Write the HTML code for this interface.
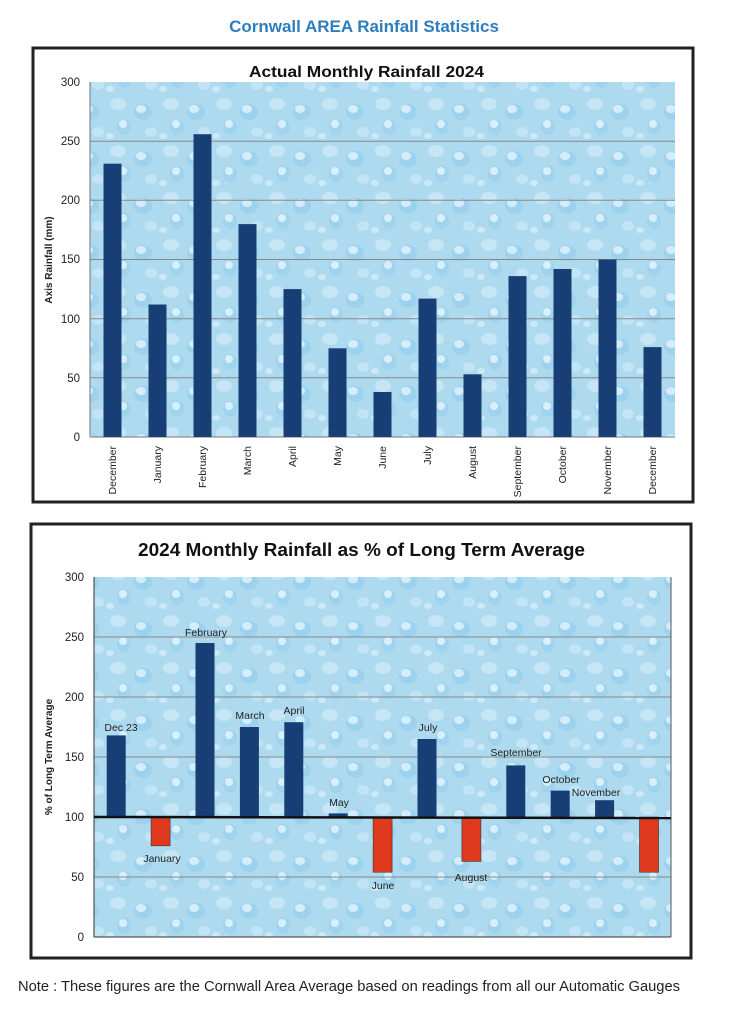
<!DOCTYPE html>
<html><head><meta charset="utf-8"><style>
html,body{margin:0;padding:0;background:#fff;}
body{width:745px;height:1024px;overflow:hidden;font-family:"Liberation Sans",sans-serif;}
</style></head><body>
<svg width="745" height="1024" viewBox="0 0 745 1024" xmlns="http://www.w3.org/2000/svg" font-family="Liberation Sans, DejaVu Sans, sans-serif">
<defs>
<pattern id="drops" width="53" height="47" patternUnits="userSpaceOnUse">
<rect width="53" height="47" fill="#aedaf0"/>
<ellipse cx="12" cy="10" rx="8" ry="6" fill="#c6e6f6"/>
<ellipse cx="37" cy="18" rx="9" ry="8" fill="#9dd2ee"/>
<ellipse cx="35" cy="15" rx="5" ry="4" fill="#d3eefa"/>
<ellipse cx="18" cy="33" rx="7" ry="8" fill="#a0d3ee"/>
<ellipse cx="17" cy="30" rx="4" ry="4" fill="#d8f0fb"/>
<ellipse cx="45" cy="38" rx="6" ry="5" fill="#c2e4f5"/>
<ellipse cx="4" cy="42" rx="4" ry="3" fill="#cbe9f7"/>
</pattern>
</defs>
<text x="364" y="32" text-anchor="middle" font-size="17" font-weight="bold" fill="#2e7dbd">Cornwall AREA Rainfall Statistics</text>

<!-- Chart 1 -->
<rect x="33" y="48" width="660" height="454" fill="#fff" stroke="#222" stroke-width="3"/>
<text x="249" y="77" textLength="235" lengthAdjust="spacingAndGlyphs" font-size="16" font-weight="bold" fill="#111">Actual Monthly Rainfall 2024</text>
<rect x="90" y="82" width="585" height="355" fill="url(#drops)"/>
<g stroke="#888" stroke-width="1">
<line x1="90" x2="675" y1="141.2" y2="141.2"/><line x1="90" x2="675" y1="200.3" y2="200.3"/>
<line x1="90" x2="675" y1="259.5" y2="259.5"/><line x1="90" x2="675" y1="318.7" y2="318.7"/>
<line x1="90" x2="675" y1="377.8" y2="377.8"/>
</g>
<line x1="90" y1="82" x2="90" y2="437" stroke="#777"/>
<line x1="90" y1="437" x2="675" y2="437" stroke="#777"/>
<g font-size="11.5" fill="#222" text-anchor="end">
<text x="80" y="86">300</text><text x="80" y="145">250</text><text x="80" y="204">200</text>
<text x="80" y="263">150</text><text x="80" y="323">100</text><text x="80" y="382">50</text><text x="80" y="441">0</text>
</g>
<text transform="translate(52,260) rotate(-90)" text-anchor="middle" font-size="10" font-weight="bold" fill="#222">Axis Rainfall (mm)</text>
<g fill="#173f75">
<rect x="103.5" y="163.7" width="18" height="273.3"/>
<rect x="148.5" y="304.5" width="18" height="132.5"/>
<rect x="193.5" y="134.2" width="18" height="302.8"/>
<rect x="238.5" y="224.1" width="18" height="212.9"/>
<rect x="283.5" y="289.1" width="18" height="147.9"/>
<rect x="328.5" y="348.3" width="18" height="88.7"/>
<rect x="373.5" y="392" width="18" height="45"/>
<rect x="418.5" y="298.6" width="18" height="138.4"/>
<rect x="463.5" y="374.3" width="18" height="62.7"/>
<rect x="508.5" y="276.1" width="18" height="160.9"/>
<rect x="553.5" y="269" width="18" height="168"/>
<rect x="598.5" y="259.5" width="18" height="177.5"/>
<rect x="643.5" y="347.1" width="18" height="89.9"/>
</g>
<g font-size="10.5" fill="#222" text-anchor="end">
<text transform="translate(116,446) rotate(-90)">December</text>
<text transform="translate(161,446) rotate(-90)">January</text>
<text transform="translate(206,446) rotate(-90)">February</text>
<text transform="translate(251,446) rotate(-90)">March</text>
<text transform="translate(296,446) rotate(-90)">April</text>
<text transform="translate(341,446) rotate(-90)">May</text>
<text transform="translate(386,446) rotate(-90)">June</text>
<text transform="translate(431,446) rotate(-90)">July</text>
<text transform="translate(476,446) rotate(-90)">August</text>
<text transform="translate(521,446) rotate(-90)">September</text>
<text transform="translate(566,446) rotate(-90)">October</text>
<text transform="translate(611,446) rotate(-90)">November</text>
<text transform="translate(656,446) rotate(-90)">December</text>
</g>

<!-- Chart 2 -->
<rect x="31" y="524" width="660" height="434" fill="#fff" stroke="#222" stroke-width="3"/>
<text x="138" y="556" textLength="447" lengthAdjust="spacingAndGlyphs" font-size="18" font-weight="bold" fill="#111">2024 Monthly Rainfall as % of Long Term Average</text>
<rect x="94" y="577" width="577" height="360" fill="url(#drops)"/>
<g stroke="#888" stroke-width="1">
<line x1="94" x2="671" y1="637" y2="637"/><line x1="94" x2="671" y1="697" y2="697"/>
<line x1="94" x2="671" y1="757" y2="757"/><line x1="94" x2="671" y1="877" y2="877"/>
</g>
<line x1="94" y1="577" x2="94" y2="937" stroke="#333"/>
<line x1="94" y1="937" x2="671" y2="937" stroke="#333"/>
<line x1="671" y1="577" x2="671" y2="937" stroke="#555"/>
<g font-size="11.5" fill="#222" text-anchor="end">
<text x="84" y="581">300</text><text x="84" y="641">250</text><text x="84" y="701">200</text>
<text x="84" y="761">150</text><text x="84" y="821">100</text><text x="84" y="881">50</text><text x="84" y="941">0</text>
</g>
<text transform="translate(52,757) rotate(-90)" text-anchor="middle" font-size="10" font-weight="bold" fill="#222">% of Long Term Average</text>
<g fill="#173f75">
<rect x="106.7" y="735.4" width="19" height="81.6"/>
<rect x="195.5" y="643" width="19" height="174"/>
<rect x="239.9" y="727" width="19" height="90"/>
<rect x="284.3" y="722.2" width="19" height="94.8"/>
<rect x="328.7" y="813.4" width="19" height="3.6"/>
<rect x="417.5" y="739" width="19" height="78"/>
<rect x="506.3" y="765.4" width="19" height="51.6"/>
<rect x="550.7" y="790.6" width="19" height="26.4"/>
<rect x="595.1" y="800.2" width="19" height="16.8"/>
</g>
<g fill="#e03a1e" stroke="#333" stroke-width="0.6">
<rect x="151.1" y="817" width="19" height="28.8"/>
<rect x="373.1" y="817" width="19" height="55.2"/>
<rect x="461.9" y="817" width="19" height="44.4"/>
<rect x="639.5" y="817" width="19" height="55.2"/>
</g>
<line x1="94" y1="817" x2="671" y2="818" stroke="#111" stroke-width="2.5"/>
<g font-size="10.5" fill="#222" text-anchor="middle">
<text x="121" y="731">Dec  23</text>
<text x="162" y="862">January</text>
<text x="206" y="636">February</text>
<text x="250" y="719">March</text>
<text x="294" y="714">April</text>
<text x="339" y="806">May</text>
<text x="383" y="889">June</text>
<text x="428" y="731">July</text>
<text x="471" y="881">August</text>
<text x="516" y="756">September</text>
<text x="561" y="783">October</text>
<text x="596" y="796">November</text>
</g>

<text x="18" y="991" textLength="662" lengthAdjust="spacingAndGlyphs" font-size="15" fill="#222">Note : These figures are the Cornwall Area Average based on readings from all our Automatic Gauges</text>
</svg>
</body></html>
